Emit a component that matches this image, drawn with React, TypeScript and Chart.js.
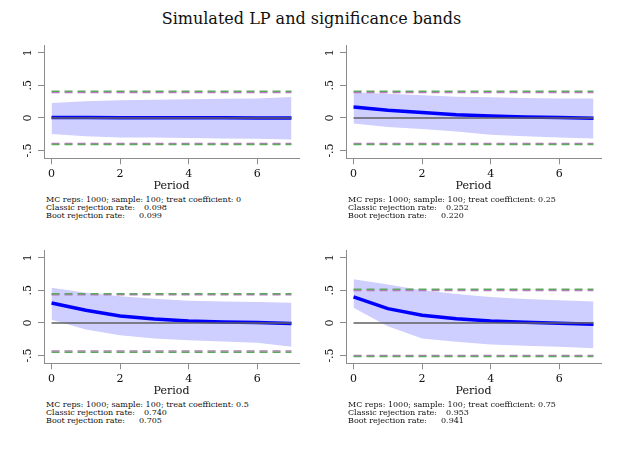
import React, { useEffect, useRef } from "react";
import { Chart, registerables, ChartConfiguration, Plugin } from "chart.js";

Chart.register(...registerables);

const periods = [0, 1, 2, 3, 4, 5, 6, 7];
const xTicks = [0, 2, 4, 6];
const yTicks = [-0.5, 0, 0.5, 1];
const yTickLabels = ["-.5", "0", ".5", "1"];

const mcReps = 1000;
const sampleSize = 100;
const treatCoefs = ["0", "0.25", "0.5", "0.75"];
const classicRates = ["0.098", "0.252", "0.740", "0.953"];
const bootRates = ["0.099", "0.220", "0.705", "0.941"];

// critical values (green = classic, purple = bootstrap)
const classicCrit = [0.409, 0.409, 0.449, 0.517];
const bootCrit = [0.391, 0.391, 0.431, 0.499];

// mean LP estimates per horizon
const lpMean0 = [0.008, 0.007, 0.003, 0.002, 0.001, 0.001, 0, 0];
const lpMean25 = [0.168, 0.117, 0.082, 0.05, 0.03, 0.015, 0.005, -0.005];
const lpMean50 = [0.306, 0.194, 0.107, 0.06, 0.03, 0.015, 0.005, -0.01];
const lpMean75 = [0.4, 0.22, 0.117, 0.066, 0.03, 0.01, -0.005, -0.02];

// simulated bands
const bandHi0 = [0.23, 0.255, 0.27, 0.28, 0.286, 0.296, 0.3, 0.32];
const bandLo0 = [-0.245, -0.28, -0.3, -0.3, -0.31, -0.316, -0.32, -0.33];
const bandHi25 = [0.39, 0.37, 0.347, 0.326, 0.316, 0.306, 0.3, 0.3];
const bandLo25 = [-0.087, -0.14, -0.17, -0.21, -0.26, -0.28, -0.3, -0.316];
const bandHi50 = [0.54, 0.464, 0.41, 0.37, 0.34, 0.33, 0.32, 0.31];
const bandLo50 = [0.05, -0.1, -0.19, -0.24, -0.265, -0.286, -0.306, -0.367];
const bandHi75 = [0.67, 0.59, 0.5, 0.444, 0.4, 0.367, 0.347, 0.33];
const bandLo75 = [0.235, -0.05, -0.24, -0.29, -0.33, -0.35, -0.367, -0.39];

const lpMeans = [lpMean0, lpMean25, lpMean50, lpMean75];
const bandHis = [bandHi0, bandHi25, bandHi50, bandHi75];
const bandLos = [bandLo0, bandLo25, bandLo50, bandLo75];

const serif = "'DejaVu Serif', serif";
const axisGray = "#8c8c8c";
const textColor = "#101010";

const panelLeft = [0, 302, 0, 302];
const panelTop = [0, 0, 205, 205];

const rotatedYLabels: Plugin = {
  id: "rotatedYLabels",
  afterDraw(chart) {
    const scale = chart.scales.y;
    const ctx = chart.ctx;
    ctx.save();
    ctx.font = `11px ${serif}`;
    ctx.fillStyle = textColor;
    ctx.textAlign = "center";
    ctx.textBaseline = "bottom";
    scale.ticks.forEach((t) => {
      const label = yTickLabels[yTicks.indexOf(t.value)];
      if (label === undefined) return;
      ctx.save();
      ctx.translate(scale.right - 10, scale.getPixelForValue(t.value));
      ctx.rotate(-Math.PI / 2);
      ctx.fillText(label, 0, 0);
      ctx.restore();
    });
    ctx.restore();
  },
};

const pts = (ys: number[]) => periods.map((p, i) => ({ x: p, y: ys[i] }));
const flat = (v: number) => [
  { x: periods[0], y: v },
  { x: periods[periods.length - 1], y: v },
];

const Panel: React.FC<{ idx: number }> = ({ idx }) => {
  const canvasRef = useRef<HTMLCanvasElement | null>(null);

  useEffect(() => {
    if (!canvasRef.current) return;
    const ctx = canvasRef.current.getContext("2d");
    if (!ctx) return;

    const dash = [8, 5];
    const green = "#5ea75e";
    const purple = "#b57ab9";
    const config: ChartConfiguration<"line"> = {
      type: "line",
      data: {
        datasets: [
          { data: flat(classicCrit[idx]), borderColor: green, borderWidth: 1.5, borderDash: dash, order: 0 },
          { data: flat(-classicCrit[idx]), borderColor: green, borderWidth: 1.5, borderDash: dash, order: 0 },
          { data: flat(bootCrit[idx]), borderColor: purple, borderWidth: 1.5, borderDash: dash, order: 1 },
          { data: flat(-bootCrit[idx]), borderColor: purple, borderWidth: 1.5, borderDash: dash, order: 1 },
          { data: pts(periods.map(() => 0)), borderColor: "#606060", borderWidth: 1.6, order: 2 },
          { data: pts(lpMeans[idx]), borderColor: "#0000ff", borderWidth: 3.5, order: 3 },
          {
            data: pts(bandHis[idx]),
            borderWidth: 0,
            borderColor: "rgba(0,0,0,0)",
            backgroundColor: "rgb(206,206,255)",
            fill: "+1",
            order: 4,
          },
          { data: pts(bandLos[idx]), borderWidth: 0, borderColor: "rgba(0,0,0,0)", order: 5 },
        ],
      },
      options: {
        animation: false,
        responsive: true,
        maintainAspectRatio: false,
        layout: { padding: { top: 5, right: 11, left: 0, bottom: 0 } },
        elements: { point: { radius: 0 }, line: { tension: 0 } },
        plugins: { legend: { display: false }, tooltip: { enabled: false } },
        scales: {
          x: {
            type: "linear",
            min: -0.22,
            max: 7.22,
            afterBuildTicks: (axis) => {
              axis.ticks = xTicks.map((v) => ({ value: v }));
            },
            afterFit: (axis) => {
              axis.height = 34.7;
            },
            ticks: {
              font: { family: serif, size: 11 },
              color: textColor,
              padding: 3,
              maxRotation: 0,
              autoSkip: false,
            },
            title: {
              display: true,
              text: "Period",
              font: { family: serif, size: 11 },
              color: textColor,
              padding: { top: 0, bottom: 0 },
            },
            grid: { drawOnChartArea: false, drawTicks: true, tickLength: 6, color: axisGray },
            border: { display: true, color: axisGray, width: 1 },
          },
          y: {
            type: "linear",
            min: -0.62,
            max: 1.12,
            afterBuildTicks: (axis) => {
              axis.ticks = yTicks.map((v) => ({ value: v }));
            },
            afterFit: (axis) => {
              axis.width = 44;
            },
            ticks: { display: false },
            grid: { drawOnChartArea: false, drawTicks: true, tickLength: 6, color: axisGray },
            border: { display: true, color: axisGray, width: 1 },
          },
        },
      },
      plugins: [rotatedYLabels],
    };

    const chart = new Chart(ctx, config);
    return () => {
      chart.destroy();
    };
  }, [idx]);

  return (
    <div
      style={{
        position: "absolute",
        left: panelLeft[idx],
        top: 40 + panelTop[idx],
        width: 310,
        height: 153,
      }}
    >
      <canvas ref={canvasRef} />
    </div>
  );
};

const Caption: React.FC<{ idx: number }> = ({ idx }) => (
  <div
    style={{
      position: "absolute",
      left: 46 + panelLeft[idx],
      top: 196.4 + panelTop[idx],
      font: `8px ${serif}`,
      lineHeight: "7.6px",
      color: textColor,
      whiteSpace: "pre",
    }}
  >
    <div>
      MC reps: {mcReps}; sample: {sampleSize}; treat coefficient: {treatCoefs[idx]}
    </div>
    <div style={{ position: "relative" }}>
      Classic rejection rate:
      <span style={{ position: "absolute", left: 98 }}>{classicRates[idx]}</span>
    </div>
    <div style={{ position: "relative" }}>
      Boot rejection rate:
      <span style={{ position: "absolute", left: 93 }}>{bootRates[idx]}</span>
    </div>
  </div>
);

const App: React.FC = () => (
  <div
    style={{
      position: "absolute",
      left: 0,
      top: 0,
      width: 623,
      height: 453,
      background: "#fff",
      overflow: "hidden",
    }}
  >
    <div
      style={{
        position: "absolute",
        top: 9,
        left: 0,
        width: 623,
        textAlign: "center",
        font: `16px ${serif}`,
        lineHeight: "20px",
        color: textColor,
      }}
    >
      Simulated LP and significance bands
    </div>
    {[0, 1, 2, 3].map((i) => (
      <React.Fragment key={i}>
        <Panel idx={i} />
        <Caption idx={i} />
      </React.Fragment>
    ))}
  </div>
);

export default App;
